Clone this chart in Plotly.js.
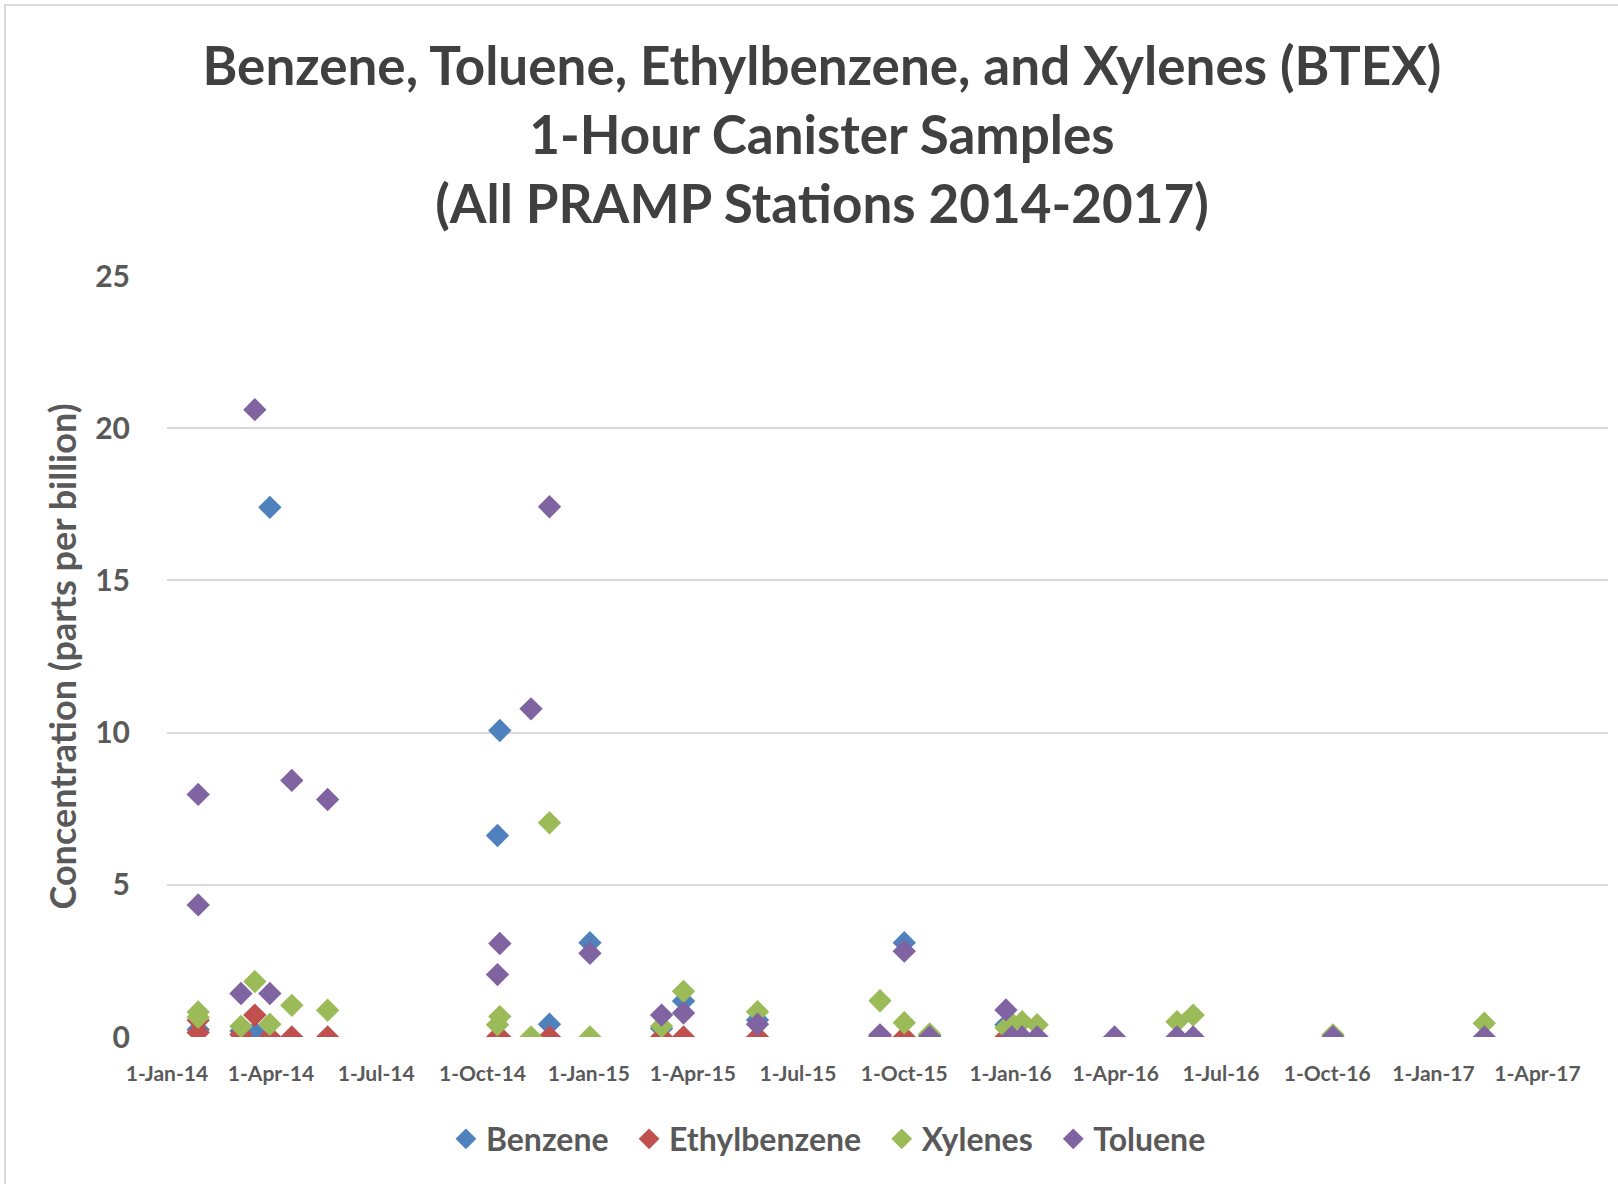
<!DOCTYPE html>
<html>
<head>
<meta charset="utf-8">
<script src="https://cdn.plot.ly/plotly-3.0.1.min.js"></script>
<style>
  html, body { margin: 0; padding: 0; background: #ffffff; }
  #wrap { position: relative; width: 1618px; height: 1184px; overflow: hidden; }
  #chart { width: 1618px; height: 1184px; }
  #frame { position: absolute; left: 4px; top: 4px; right: -10px; bottom: -10px;
           border-left: 2px solid #D9D9D9; border-top: 2px solid #D9D9D9; pointer-events: none; }
</style>
</head>
<body>
<div id="wrap"><div id="chart"></div><div id="frame"></div></div>
<script>
// ---- Data ----
const benzeneDates = ['2014-01-28','2014-03-06','2014-03-18','2014-03-31','2014-10-14','2014-10-16','2014-11-28','2015-01-02','2015-03-05','2015-03-24','2015-05-27','2015-09-10','2015-10-01','2015-10-23','2015-12-28'];
const benzeneValues = [0.25, 0.2, 0.15, 17.4, 6.62, 10.07, 0.42, 3.1, 0.28, 1.18, 0.56, 0.05, 3.1, 0.05, 0.4];

const ethylDates = ['2014-01-28','2014-01-28','2014-03-06','2014-03-18','2014-03-31','2014-04-19','2014-05-20','2014-10-14','2014-10-16','2014-11-28','2015-03-05','2015-03-24','2015-05-27','2015-09-10','2015-10-01','2015-12-28'];
const ethylValues = [0.55, 0.15, 0.08, 0.72, 0, 0, 0, 0, 0, 0, 0, 0, 0, 0.02, 0, 0];

const xyleneDates = ['2014-01-28','2014-01-28','2014-03-06','2014-03-18','2014-03-31','2014-04-19','2014-05-20','2014-10-14','2014-10-16','2014-11-12','2014-11-28','2015-01-02','2015-03-05','2015-03-24','2015-05-27','2015-09-10','2015-10-01','2015-10-23','2015-12-28','2016-01-02','2016-01-11','2016-01-24','2016-05-24','2016-06-07','2016-10-06','2017-02-14'];
const xyleneValues = [0.82, 0.65, 0.35, 1.82, 0.42, 1.04, 0.88, 0.4, 0.67, 0, 7.04, 0, 0.35, 1.5, 0.83, 1.19, 0.47, 0.1, 0.3, 0.45, 0.5, 0.4, 0.5, 0.72, 0.07, 0.45];

const tolueneDates = ['2014-01-28','2014-01-28','2014-03-06','2014-03-18','2014-03-31','2014-04-19','2014-05-20','2014-10-14','2014-10-16','2014-11-12','2014-11-28','2015-01-02','2015-03-05','2015-03-24','2015-05-27','2015-09-10','2015-10-01','2015-10-23','2015-12-28','2016-01-02','2016-01-11','2016-01-24','2016-03-31','2016-05-24','2016-06-07','2016-10-06','2017-02-14'];
const tolueneValues = [7.97, 4.34, 1.43, 20.61, 1.43, 8.43, 7.8, 2.05, 3.07, 10.78, 17.42, 2.75, 0.72, 0.79, 0.42, 0.07, 2.82, 0, 0.89, 0, 0, 0, 0, 0, 0, 0, 0];

const seriesNames = ['Benzene', 'Ethylbenzene', 'Xylenes', 'Toluene'];

const xTickDates = ['2014-01-01','2014-04-01','2014-07-01','2014-10-01','2015-01-01','2015-04-01','2015-07-01','2015-10-01','2016-01-01','2016-04-01','2016-07-01','2016-10-01','2017-01-01','2017-04-01'];
const xTickLabels = ['1-Jan-14','1-Apr-14','1-Jul-14','1-Oct-14','1-Jan-15','1-Apr-15','1-Jul-15','1-Oct-15','1-Jan-16','1-Apr-16','1-Jul-16','1-Oct-16','1-Jan-17','1-Apr-17'];
const yTickValues = [0, 5, 10, 15, 20, 25];

// ---- Styling ----
const FONT = 'Lato, "Open Sans", sans-serif';
const GRAY = '#595959';
const markerSize = 18;
const legendPad = '\u00a0\u00a0';

function series(name, x, y, color, last) {
  return {
    type: 'scatter', mode: 'markers', name: last ? name : name + legendPad, x: x, y: y,
    marker: { symbol: 'diamond', size: markerSize, color: color, line: { width: 0 } },
    hoverinfo: 'x+y+name'
  };
}

const data = [
  series(seriesNames[0], benzeneDates, benzeneValues, '#4F81BD'),
  series(seriesNames[1], ethylDates, ethylValues, '#C0504D'),
  series(seriesNames[2], xyleneDates, xyleneValues, '#9BBB59'),
  series(seriesNames[3], tolueneDates, tolueneValues, '#8064A2', true)
];

const layout = {
  width: 1618, height: 1184,
  paper_bgcolor: '#ffffff', plot_bgcolor: '#ffffff',
  margin: { l: 167, r: 10, t: 276, b: 147 },
  font: { family: FONT, color: GRAY },
  title: {
    text: 'Benzene, Toluene, Ethylbenzene, and Xylenes (BTEX)<br>1-Hour Canister Samples<br>(All PRAMP Stations 2014-2017)',
    font: { family: FONT, size: 53, color: '#404040', weight: 'bold' },
    x: 0.508, xanchor: 'center', xref: 'container',
    y: 0.928, yanchor: 'middle', yref: 'container'
  },
  xaxis: {
    type: 'date',
    range: ['2014-01-01', '2017-06-01'],
    tickmode: 'array', tickvals: xTickDates, ticktext: xTickLabels,
    tickfont: { family: FONT, size: 21, color: GRAY, weight: 'bold' },
    ticklabelstandoff: 22,
    showgrid: false, zeroline: false, showline: false, ticks: '',
    tickangle: 0, automargin: false
  },
  yaxis: {
    range: [0, 25],
    tickmode: 'array', tickvals: yTickValues,
    tickfont: { family: FONT, size: 30, color: GRAY, weight: 'bold' },
    ticklabelstandoff: 36,
    showgrid: true, gridcolor: '#D9D9D9', gridwidth: 2,
    zeroline: false, showline: false, ticks: '', ticklen: 0,
    automargin: false,
    title: { text: 'Concentration (parts per billion)', font: { family: FONT, size: 36, color: GRAY, weight: 'bold' }, standoff: 7 }
  },
  showlegend: true,
  legend: {
    orientation: 'h', xref: 'container', yref: 'container',
    x: 0.512, xanchor: 'center', y: 0.038, yanchor: 'middle',
    font: { family: FONT, size: 32, color: GRAY, weight: 'bold' },
    itemsizing: 'trace', traceorder: 'normal', itemwidth: 30
  }
};

Plotly.newPlot('chart', data, layout, { displayModeBar: false, staticPlot: true });
</script>
</body>
</html>
